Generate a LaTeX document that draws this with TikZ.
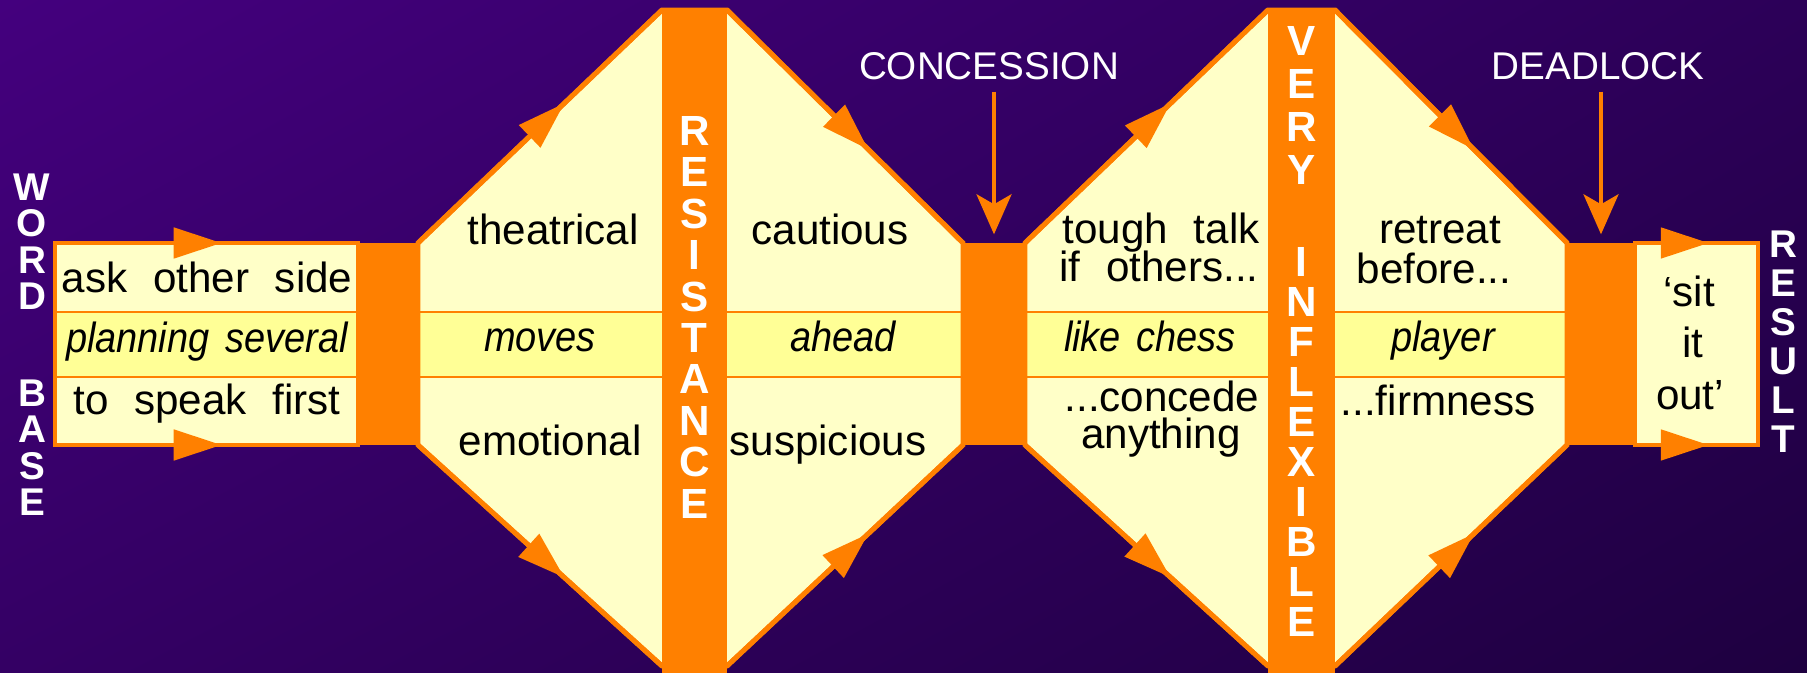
\documentclass[tikz,border=0pt]{standalone}
\usepackage{fontspec}
\setmainfont{Liberation Sans}[WordSpace=2.2, ItalicFeatures={FakeStretch=0.9, WordSpace=1.5}]
\usetikzlibrary{arrows.meta, decorations.markings, shadings}

\definecolor{bgtl}{RGB}{68,0,126}
\definecolor{bgtr}{RGB}{44,0,88}
\definecolor{bgbl}{RGB}{52,0,100}
\definecolor{bgbr}{RGB}{30,0,64}
\definecolor{flow}{RGB}{255,128,0}
\definecolor{cream}{RGB}{255,255,200}
\definecolor{bandyellow}{RGB}{255,255,150}

\begin{document}
\begin{tikzpicture}[
    rim/.style={draw=flow, line width=1.4pt},
    flowtip/.style={postaction={decorate}, decoration={markings,
        mark=at position #1 with {\arrow{Triangle[length=4.8mm, width=3mm]}}}},
    block/.style={fill=flow, inner sep=0pt, minimum height=2.02cm},
    bandline/.style={draw=flow, line width=0.6pt},
    txt/.style={anchor=base, inner sep=0pt, font=\fontsize{12}{14}\selectfont},
    bandtext/.style={txt, font=\fontsize{12}{14}\selectfont\itshape},
    barletter/.style={text=white, inner sep=0pt, font=\fontsize{12}{14}\selectfont\bfseries},
    sideletter/.style={text=white, inner sep=0pt, font=\fontsize{11}{13}\selectfont\bfseries},
    toplabel/.style={text=white, anchor=base, inner sep=1pt, font=\fontsize{11}{13}\selectfont},
    droparrow/.style={flow, line width=1.1pt, -{Stealth[length=4mm, width=3.5mm, inset=1mm]},
        shorten <=0.07cm, shorten >=0.08cm}
]
\shade[upper left=bgtl, upper right=bgtr, lower left=bgbl, lower right=bgbr] (0,0) rectangle (18.07,6.73);

\fill[cream] (0.55,2.28) rectangle (3.58,4.30);
\fill[bandyellow] (0.55,2.96) rectangle (3.58,3.61);
\draw[bandline] (0.55,3.61) -- (3.58,3.61) (0.55,2.96) -- (3.58,2.96);
\draw[rim] (0.55,2.28) rectangle (3.58,4.30);
\draw[rim, flowtip=0.55] (0.55,4.30) -- (3.58,4.30);
\draw[rim, flowtip=0.55] (0.55,2.28) -- (3.58,2.28);

\fill[cream] (4.18,4.30) -- (6.62,6.63) -- (7.27,6.63) -- (9.63,4.30) -- (9.63,2.28) -- (7.27,0.07) -- (6.62,0.07) -- (4.18,2.28) -- cycle;
\fill[bandyellow] (4.18,2.96) rectangle (9.63,3.61);
\draw[bandline] (4.18,3.61) -- (9.63,3.61) (4.18,2.96) -- (9.63,2.96);
\draw[rim] (4.18,4.30) -- (6.62,6.63) -- (7.27,6.63) -- (9.63,4.30) -- (9.63,2.28) -- (7.27,0.07) -- (6.62,0.07) -- (4.18,2.28) -- cycle;
\draw[rim, flowtip=0.6] (4.18,4.30) -- (6.62,6.63);
\draw[rim, flowtip=0.6] (7.27,6.63) -- (9.63,4.30);
\draw[rim, flowtip=0.6] (4.18,2.28) -- (6.62,0.07);
\draw[rim, flowtip=0.6] (7.27,0.07) -- (9.63,2.28);
\fill[flow] (6.62,0) rectangle (7.27,6.63);

\fill[cream] (10.25,4.30) -- (12.68,6.63) -- (13.35,6.63) -- (15.67,4.30) -- (15.67,2.28) -- (13.35,0.07) -- (12.68,0.07) -- (10.25,2.28) -- cycle;
\fill[bandyellow] (10.25,2.96) rectangle (15.67,3.61);
\draw[bandline] (10.25,3.61) -- (15.67,3.61) (10.25,2.96) -- (15.67,2.96);
\draw[rim] (10.25,4.30) -- (12.68,6.63) -- (13.35,6.63) -- (15.67,4.30) -- (15.67,2.28) -- (13.35,0.07) -- (12.68,0.07) -- (10.25,2.28) -- cycle;
\draw[rim, flowtip=0.6] (10.25,4.30) -- (12.68,6.63);
\draw[rim, flowtip=0.6] (13.35,6.63) -- (15.67,4.30);
\draw[rim, flowtip=0.6] (10.25,2.28) -- (12.68,0.07);
\draw[rim, flowtip=0.6] (13.35,0.07) -- (15.67,2.28);
\fill[flow] (12.68,0) rectangle (13.35,6.63);

\fill[cream] (16.35,2.28) rectangle (17.58,4.30);
\draw[rim] (16.35,2.28) rectangle (17.58,4.30);
\draw[rim, flowtip=0.6] (16.35,4.30) -- (17.58,4.30);
\draw[rim, flowtip=0.6] (16.35,2.28) -- (17.58,2.28);

\node[block, minimum width=0.60cm] (baseblock) at (3.88,3.29) {};
\node[block, minimum width=0.62cm] (concblock) at (9.94,3.29) {};
\node[block, minimum width=0.68cm] (lockblock) at (16.01,3.29) {};

\node[toplabel] (concession) at (9.89,5.93) {CONCESSION};
\node[toplabel] (deadlock) at (15.98,5.93) {DEADLOCK};
\draw[droparrow] (concession.south -| concblock.north) -- (concblock.north);
\draw[droparrow] (deadlock.south -| lockblock.north) -- (lockblock.north);

\node[txt] (ask) at (2.07,3.80) {ask other side};
\node[bandtext] (planning) at (2.07,3.20) {planning several};
\node[txt] (speak) at (2.07,2.58) {to speak first};

\node[txt] (theatrical) at (5.53,4.28) {theatrical};
\node[bandtext] (moves) at (5.40,3.21) {moves};
\node[txt] (emotional) at (5.50,2.17) {emotional};
\node[txt] (cautious) at (8.30,4.28) {cautious};
\node[bandtext] (ahead) at (8.43,3.21) {ahead};
\node[txt] (suspicious) at (8.28,2.17) {suspicious};

\node[txt] (tough) at (11.61,4.29) {tough talk};
\node[txt] (others) at (11.59,3.91) {if others...};
\node[bandtext] (chess) at (11.50,3.21) {like chess};
\node[txt] (concede) at (11.62,2.61) {...concede};
\node[txt] (anything) at (11.61,2.24) {anything};
\node[txt] (retreat) at (14.40,4.29) {retreat};
\node[txt] (before) at (14.34,3.89) {before...};
\node[bandtext] (player) at (14.43,3.21) {player};
\node[txt] (firmness) at (14.38,2.57) {...firmness};

\node[txt] (sit) at (16.89,3.66) {`sit};
\node[txt] (it) at (16.93,3.15) {it};
\node[txt] (out) at (16.90,2.63) {out'};

\foreach \l [count=\i from 0] in {W,O,R,D}
    \node[sideletter] (word\i) at (0.32,4.86-0.365*\i) {\l};
\foreach \l [count=\i from 0] in {B,A,S,E}
    \node[sideletter] (base\i) at (0.32,2.80-0.365*\i) {\l};
\foreach \l [count=\i from 0] in {R,E,S,U,L,T}
    \node[sideletter] (result\i) at (17.83,4.29-0.39*\i) {\l};
\foreach \l [count=\i from 0] in {R,E,S,I,S,T,A,N,C,E}
    \node[barletter] (resist\i) at (6.945,5.42-0.414*\i) {\l};
\foreach \l [count=\i from 0] in {V,E,R,Y}
    \node[barletter] (very\i) at (13.015,6.32-0.43*\i) {\l};
\foreach \l [count=\i from 0] in {I,N,F,L,E,X,I,B,L,E}
    \node[barletter] (inflex\i) at (13.015,4.11-0.40*\i) {\l};

\end{tikzpicture}
\end{document}
